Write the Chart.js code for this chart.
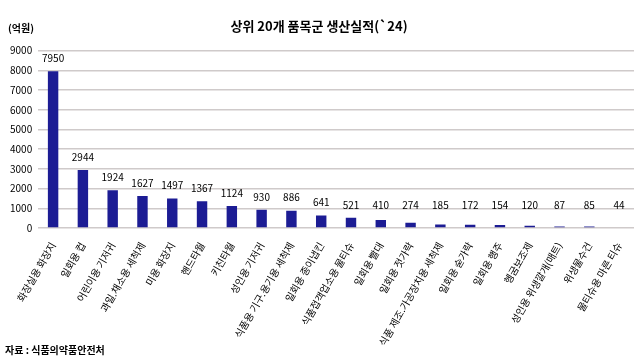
<!DOCTYPE html>
<html>
<head>
<meta charset="utf-8">
<script src="https://cdn.jsdelivr.net/npm/chart.js@4"></script>
<style>
  html, body { margin: 0; padding: 0; background: #fff; }
  #wrap { position: relative; width: 640px; height: 362px; }
  #unit { position: absolute; left: 8px; top: 20px; font: bold 10px "Noto Sans CJK KR"; color: #000; }
  #src { position: absolute; left: 5px; top: 342px; font: bold 10px "Noto Sans CJK KR"; color: #000; }
</style>
</head>
<body>
<div id="wrap">
  <canvas id="myChart" width="640" height="362"></canvas>
  <div id="unit">(억원)</div>
  <div id="src">자료 : 식품의약품안전처</div>
</div>
<script>
const categories = ['화장실용 화장지', '일회용 컵', '어린이용 기저귀', '과일.채소용 세척제', '미용 화장지',
  '핸드타월', '키친타월', '성인용 기저귀', '식품용 기구.용기용 세척제', '일회용 종이냅킨',
  '식품접객업소용 물티슈', '일회용 빨대', '일회용 젓가락', '식품 제조.가공장치용 세척제', '일회용 숟가락',
  '일회용 행주', '헹굼보조제', '성인용 위생깔개(매트)', '위생물수건', '물티슈용 마른 티슈'];
const production = [7950, 2944, 1924, 1627, 1497, 1367, 1124, 930, 886, 641,
  521, 410, 274, 185, 172, 154, 120, 87, 85, 44];

const barColors = production.map((v, i) => i === production.length - 1 ? '#8596dc' : '#1c1c94');

// draws the number above each bar
const valueLabels = {
  id: 'valueLabels',
  afterDatasetsDraw(chart) {
    const ctx = chart.ctx;
    const meta = chart.getDatasetMeta(0);
    ctx.save();
    ctx.font = '10px "Noto Sans CJK KR"';
    ctx.fillStyle = '#000';
    ctx.textAlign = 'center';
    ctx.textBaseline = 'bottom';
    meta.data.forEach((bar, i) => {
      const y = Math.min(bar.y, chart.scales.y.getPixelForValue(500));
      ctx.fillText(production[i], bar.x, y - 8);
    });
    ctx.restore();
  }
};

Chart.defaults.font.family = '"Noto Sans CJK KR", sans-serif';
Chart.defaults.color = '#000';

new Chart(document.getElementById('myChart'), {
  type: 'bar',
  data: {
    labels: categories,
    datasets: [{
      data: production,
      backgroundColor: barColors,
      barPercentage: 0.35,
      categoryPercentage: 1.0
    }]
  },
  options: {
    responsive: false,
    animation: false,
    layout: { padding: { left: 4, right: 6, top: 0, bottom: 10 } },
    plugins: {
      legend: { display: false },
      tooltip: { enabled: false },
      title: {
        display: true,
        text: '상위 20개 품목군 생산실적(`24)',
        font: { size: 13, weight: 'bold' },
        color: '#000',
        padding: { top: 18, bottom: 17 }
      }
    },
    scales: {
      x: {
        grid: { display: false },
        border: { display: false },
        ticks: { minRotation: 60, maxRotation: 60, autoSkip: false, font: { size: 10 }, padding: 4 }
      },
      y: {
        min: 0,
        max: 9000,
        ticks: { stepSize: 1000, font: { size: 10 }, padding: 6, callback: (v) => String(v) },
        grid: { color: '#cfcaca', lineWidth: 1.5, drawTicks: false },
        border: { display: false }
      }
    }
  },
  plugins: [valueLabels]
});
</script>
</body>
</html>
